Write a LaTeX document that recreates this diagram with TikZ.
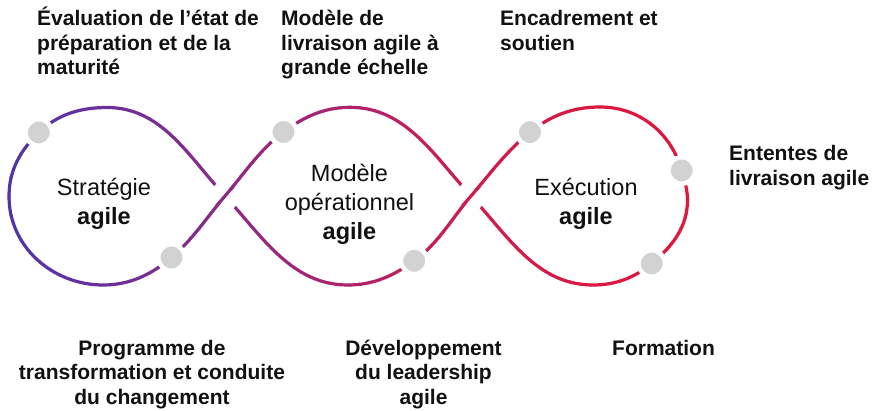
\documentclass[tikz,border=0pt]{standalone}
\usepackage{fontspec}
\setmainfont{Liberation Sans}
\usetikzlibrary{calc}
\definecolor{gA}{HTML}{4F35AA}
\definecolor{gB}{HTML}{8C2A88}
\definecolor{gC}{HTML}{CF1C4E}
\definecolor{gD}{HTML}{E2163A}
\definecolor{dotgray}{HTML}{D2D2D2}
\definecolor{txt}{HTML}{111111}
\newcommand\mystripcolor[1]{%
  \pgfmathsetmacro\tmpx{#1}%
  \ifdim\tmpx pt<225pt
    \pgfmathsetmacro\pp{(225-\tmpx)/225*100}\colorlet{strip}{gA!\pp!gB}%
  \else\ifdim\tmpx pt<471pt
    \pgfmathsetmacro\pp{(471-\tmpx)/246*100}\colorlet{strip}{gB!\pp!gC}%
  \else
    \pgfmathsetmacro\pp{max(0,(690-\tmpx)/219*100)}\colorlet{strip}{gC!\pp!gD}%
  \fi\fi}
\begin{document}
\begin{tikzpicture}[x=1pt,y=-1pt,
  dotnode/.style={circle, minimum size=26.5pt, inner sep=0pt, fill=dotgray, draw=white, line width=4.5pt},
  sidelabel/.style={font=\fontsize{21}{24.5}\selectfont\bfseries, text=txt, inner sep=0pt, align=left, anchor=base west},
  botlabel/.style={font=\fontsize{21}{24.5}\selectfont\bfseries, text=txt, inner sep=0pt, align=center, anchor=base},
  mainlabel/.style={font=\fontsize{23.5}{29}\selectfont, text=txt, inner sep=0pt, align=center, anchor=base}]
\useasboundingbox (0,0) rectangle (872,411);
\fill[white] (0,0) rectangle (872,411);
% key points of the curve
\coordinate (C1) at (225,196);
\coordinate (C2) at (471,196);
\coordinate (l1) at (38.8,132.5);
\coordinate (l2) at (171.5,257.5);
\coordinate (m1) at (283.5,132);
\coordinate (m2) at (414.2,260.8);
\coordinate (r1) at (530,132.2);
\coordinate (r2) at (681.7,170.5);
\coordinate (r3) at (651.7,263.5);
\def\loopcurve{(C1) .. controls (244.7,173) and (259.3,150.2) .. (m1)
 .. controls (303.9,116.7) and (324.5,107.3) .. (350,107.3)
 .. controls (405.5,107.3) and (433.3,154.9) .. (C2)
 .. controls (509,237.4) and (537.1,285) .. (593,285)
 .. controls (615.5,285) and (634.4,277.9) .. (r3)
 .. controls (672.5,246.2) and (687.5,227) .. (687.5,200)
 .. controls (687.5,189.5) and (684.5,180.6) .. (r2)
 .. controls (671.1,132.8) and (639.3,107) .. (600,107)
 .. controls (573.2,107) and (550.9,115.3) .. (r1)
 .. controls (506.3,151.4) and (490.8,172.9) .. (C2)
 .. controls (451.4,219) and (438.7,243) .. (m2)
 .. controls (393.6,275.8) and (373.4,285) .. (348,285)
 .. controls (291.8,285) and (263.2,237.6) .. (C1)
 .. controls (187.9,155.6) and (161.6,107.5) .. (107,107.5)
 .. controls (80.9,107.5) and (57.6,114.2) .. (l1)
 .. controls (20,150.8) and (9,170.4) .. (9,196.5)
 .. controls (9,246.8) and (52.7,285) .. (103,285)
 .. controls (129.6,285) and (151.3,274.8) .. (l2)
 .. controls (193.2,239) and (206.5,217.7) .. (C1) -- cycle}
% gradient stroke, drawn strip by strip
\foreach \i in {0,...,70}{
  \pgfmathsetmacro\xa{\i*10-0.4}
  \pgfmathsetmacro\xb{\i*10+10.4}
  \mystripcolor{\i*10+5}
  \begin{scope}
    \clip (\xa,0) rectangle (\xb,411);
    \draw[line width=3.2pt, strip, line join=round] \loopcurve;
  \end{scope}
}
% crossings: the rising strand passes over
\draw[white, line width=29pt] ($(C1)+(-5.2,6.08)$) -- ($(C1)+(5.2,-6.08)$);
\draw[gB, line width=3.2pt] ($(C1)+(-8.45,9.88)$) -- ($(C1)+(8.45,-9.88)$);
\draw[white, line width=29pt] ($(C2)+(-5.2,6.08)$) -- ($(C2)+(5.2,-6.08)$);
\draw[gC, line width=3.2pt] ($(C2)+(-8.45,9.88)$) -- ($(C2)+(8.45,-9.88)$);
% dots
\node[dotnode] (dl1) at (l1) {};
\node[dotnode] (dl2) at (l2) {};
\node[dotnode] (dm1) at (m1) {};
\node[dotnode] (dm2) at (m2) {};
\node[dotnode] (dr1) at (r1) {};
\node[dotnode] (dr2) at (r2) {};
\node[dotnode] (dr3) at (r3) {};
% loop labels (anchor = baseline of the last line)
\node[mainlabel] (strat) at (104,224.5) {Stratégie\\\textbf{agile}};
\node[mainlabel] (oper) at (349.5,239.5) {Modèle\\opérationnel\\\textbf{agile}};
\node[mainlabel] (exec) at (586,224.5) {Exécution\\\textbf{agile}};
% side labels
\node[sidelabel] (eval) at (37,75) {Évaluation de l’état de\\préparation et de la\\maturité};
\node[sidelabel] (livr) at (281,75) {Modèle de\\livraison agile à\\grande échelle};
\node[sidelabel] (enca) at (500,50.5) {Encadrement et\\soutien};
\node[sidelabel] (ente) at (729,185.5) {Ententes de\\livraison agile};
\node[botlabel] (prog) at (152,404) {Programme de\\transformation et conduite\\du changement};
\node[botlabel] (dev) at (423.5,404) {Développement\\du leadership\\agile};
\node[sidelabel] (form) at (612,355) {Formation};
\end{tikzpicture}
\end{document}
